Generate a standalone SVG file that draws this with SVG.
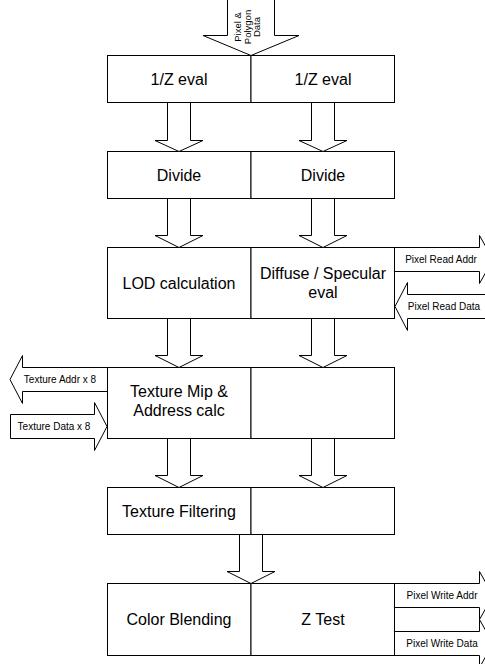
<svg xmlns="http://www.w3.org/2000/svg" width="485" height="664" viewBox="0 0 485 664">
<style>
.cell{fill:#fff;stroke:#000;stroke-width:1}
.lbl{font-family:"Liberation Sans",Arial,sans-serif;font-size:16px;fill:#000;text-anchor:middle}
.small{font-family:"Liberation Sans",Arial,sans-serif;font-size:10px;fill:#000;text-anchor:middle}
.arr{fill:#fff;stroke:#000;stroke-width:1;stroke-linejoin:miter}
</style>
<rect width="485" height="664" fill="#fff"/>
<g id="nodes">
<g id="n-1z-left"><rect class="cell" x="107.5" y="55.5" width="143.5" height="47"/><text class="lbl" x="179" y="84.5">1/Z eval</text></g>
<g id="n-1z-right"><rect class="cell" x="251" y="55.5" width="143.5" height="47"/><text class="lbl" x="323" y="84.5">1/Z eval</text></g>
<g id="n-div-left"><rect class="cell" x="107.5" y="151.5" width="143.5" height="47"/><text class="lbl" x="179" y="180.5">Divide</text></g>
<g id="n-div-right"><rect class="cell" x="251" y="151.5" width="143.5" height="47"/><text class="lbl" x="323" y="180.5">Divide</text></g>
<g id="n-lod"><rect class="cell" x="107.5" y="247.5" width="143.5" height="71"/><text class="lbl" x="179" y="288.5">LOD calculation</text></g>
<g id="n-diffuse"><rect class="cell" x="251" y="247.5" width="143.5" height="71"/><text class="lbl" x="323" y="279"><tspan x="323">Diffuse / Specular</tspan><tspan x="323" y="298">eval</tspan></text></g>
<g id="n-texmip"><rect class="cell" x="107.5" y="367.5" width="143.5" height="71"/><text class="lbl" x="179" y="397"><tspan x="179">Texture Mip &amp;</tspan><tspan x="179" y="416">Address calc</tspan></text></g>
<g id="n-texmip-right"><rect class="cell" x="251" y="367.5" width="143.5" height="71"/></g>
<g id="n-filter"><rect class="cell" x="107.5" y="487.5" width="143.5" height="47"/><text class="lbl" x="179" y="516.5">Texture Filtering</text></g>
<g id="n-filter-right"><rect class="cell" x="251" y="487.5" width="143.5" height="47"/></g>
<g id="n-blend"><rect class="cell" x="107.5" y="583.5" width="143.5" height="72"/><text class="lbl" x="179" y="624.5">Color Blending</text></g>
<g id="n-ztest"><rect class="cell" x="251" y="583.5" width="143.5" height="72"/><text class="lbl" x="323" y="624.5">Z Test</text></g>
</g>
<g id="connectors">
<g id="in-pixel-polygon">
<path class="arr" d="M227.5,-1 V35.5 H203 L251,55.5 L299,35.5 H274.5 V-1"/>
<text class="small" style="font-size:9.5px" transform="rotate(-90)"><tspan x="-27" y="241">Pixel &amp;</tspan><tspan x="-27" y="250.5">Polygon</tspan><tspan x="-27" y="260">Data</tspan></text>
</g>
<path class="arr" d="M167.5,103 V140.5 H155 L179,151.5 L203,140.5 H190.5 V103"/>
<path class="arr" d="M311.5,103 V140.5 H299 L323,151.5 L347,140.5 H334.5 V103"/>
<path class="arr" d="M167.5,199 V235.5 H155 L179,247.5 L203,235.5 H190.5 V199"/>
<path class="arr" d="M311.5,199 V235.5 H299 L323,247.5 L347,235.5 H334.5 V199"/>
<path class="arr" d="M167.5,319 V355.5 H155 L179,367.5 L203,355.5 H190.5 V319"/>
<path class="arr" d="M311.5,319 V355.5 H299 L323,367.5 L347,355.5 H334.5 V319"/>
<path class="arr" d="M167.5,439 V475.5 H155 L179,487.5 L203,475.5 H190.5 V439"/>
<path class="arr" d="M311.5,439 V475.5 H299 L323,487.5 L347,475.5 H334.5 V439"/>
<path class="arr" d="M239.5,535 V571.5 H227 L251,583.5 L275,571.5 H262.5 V535"/>
<g id="out-pixel-read-addr"><path class="arr" d="M395,247.5 H479.5 V235.5 L493,259.5 L479.5,283.5 V271.5 H395"/><text class="small" x="441" y="263">Pixel Read Addr</text></g>
<g id="in-pixel-read-data"><path class="arr" d="M490,294.5 H407.5 V282.5 L395,306.5 L407.5,330.5 V318.5 H490"/><text class="small" x="444" y="310">Pixel Read Data</text></g>
<g id="out-texture-addr"><path class="arr" d="M107,367.5 H22.5 V355.5 L10,379.5 L22.5,403.5 V391.5 H107"/><text class="small" x="60" y="383">Texture Addr x 8</text></g>
<g id="in-texture-data"><path class="arr" d="M10.5,414.5 H94.5 V402.5 L107,426.5 L94.5,450.5 V438.5 H10.5 Z"/><text class="small" x="54" y="430">Texture Data x 8</text></g>
<g id="out-pixel-write-addr"><path class="arr" d="M395,583.5 H479.5 V571.5 L493,595.5 L479.5,619.5 V607.5 H395"/><text class="small" x="442" y="599">Pixel Write Addr</text></g>
<g id="out-pixel-write-data"><path class="arr" d="M395,631.5 H479.5 V619.5 L493,643.5 L479.5,667.5 V655.5 H395"/><text class="small" x="442" y="647">Pixel Write Data</text></g>
</g>
</svg>
